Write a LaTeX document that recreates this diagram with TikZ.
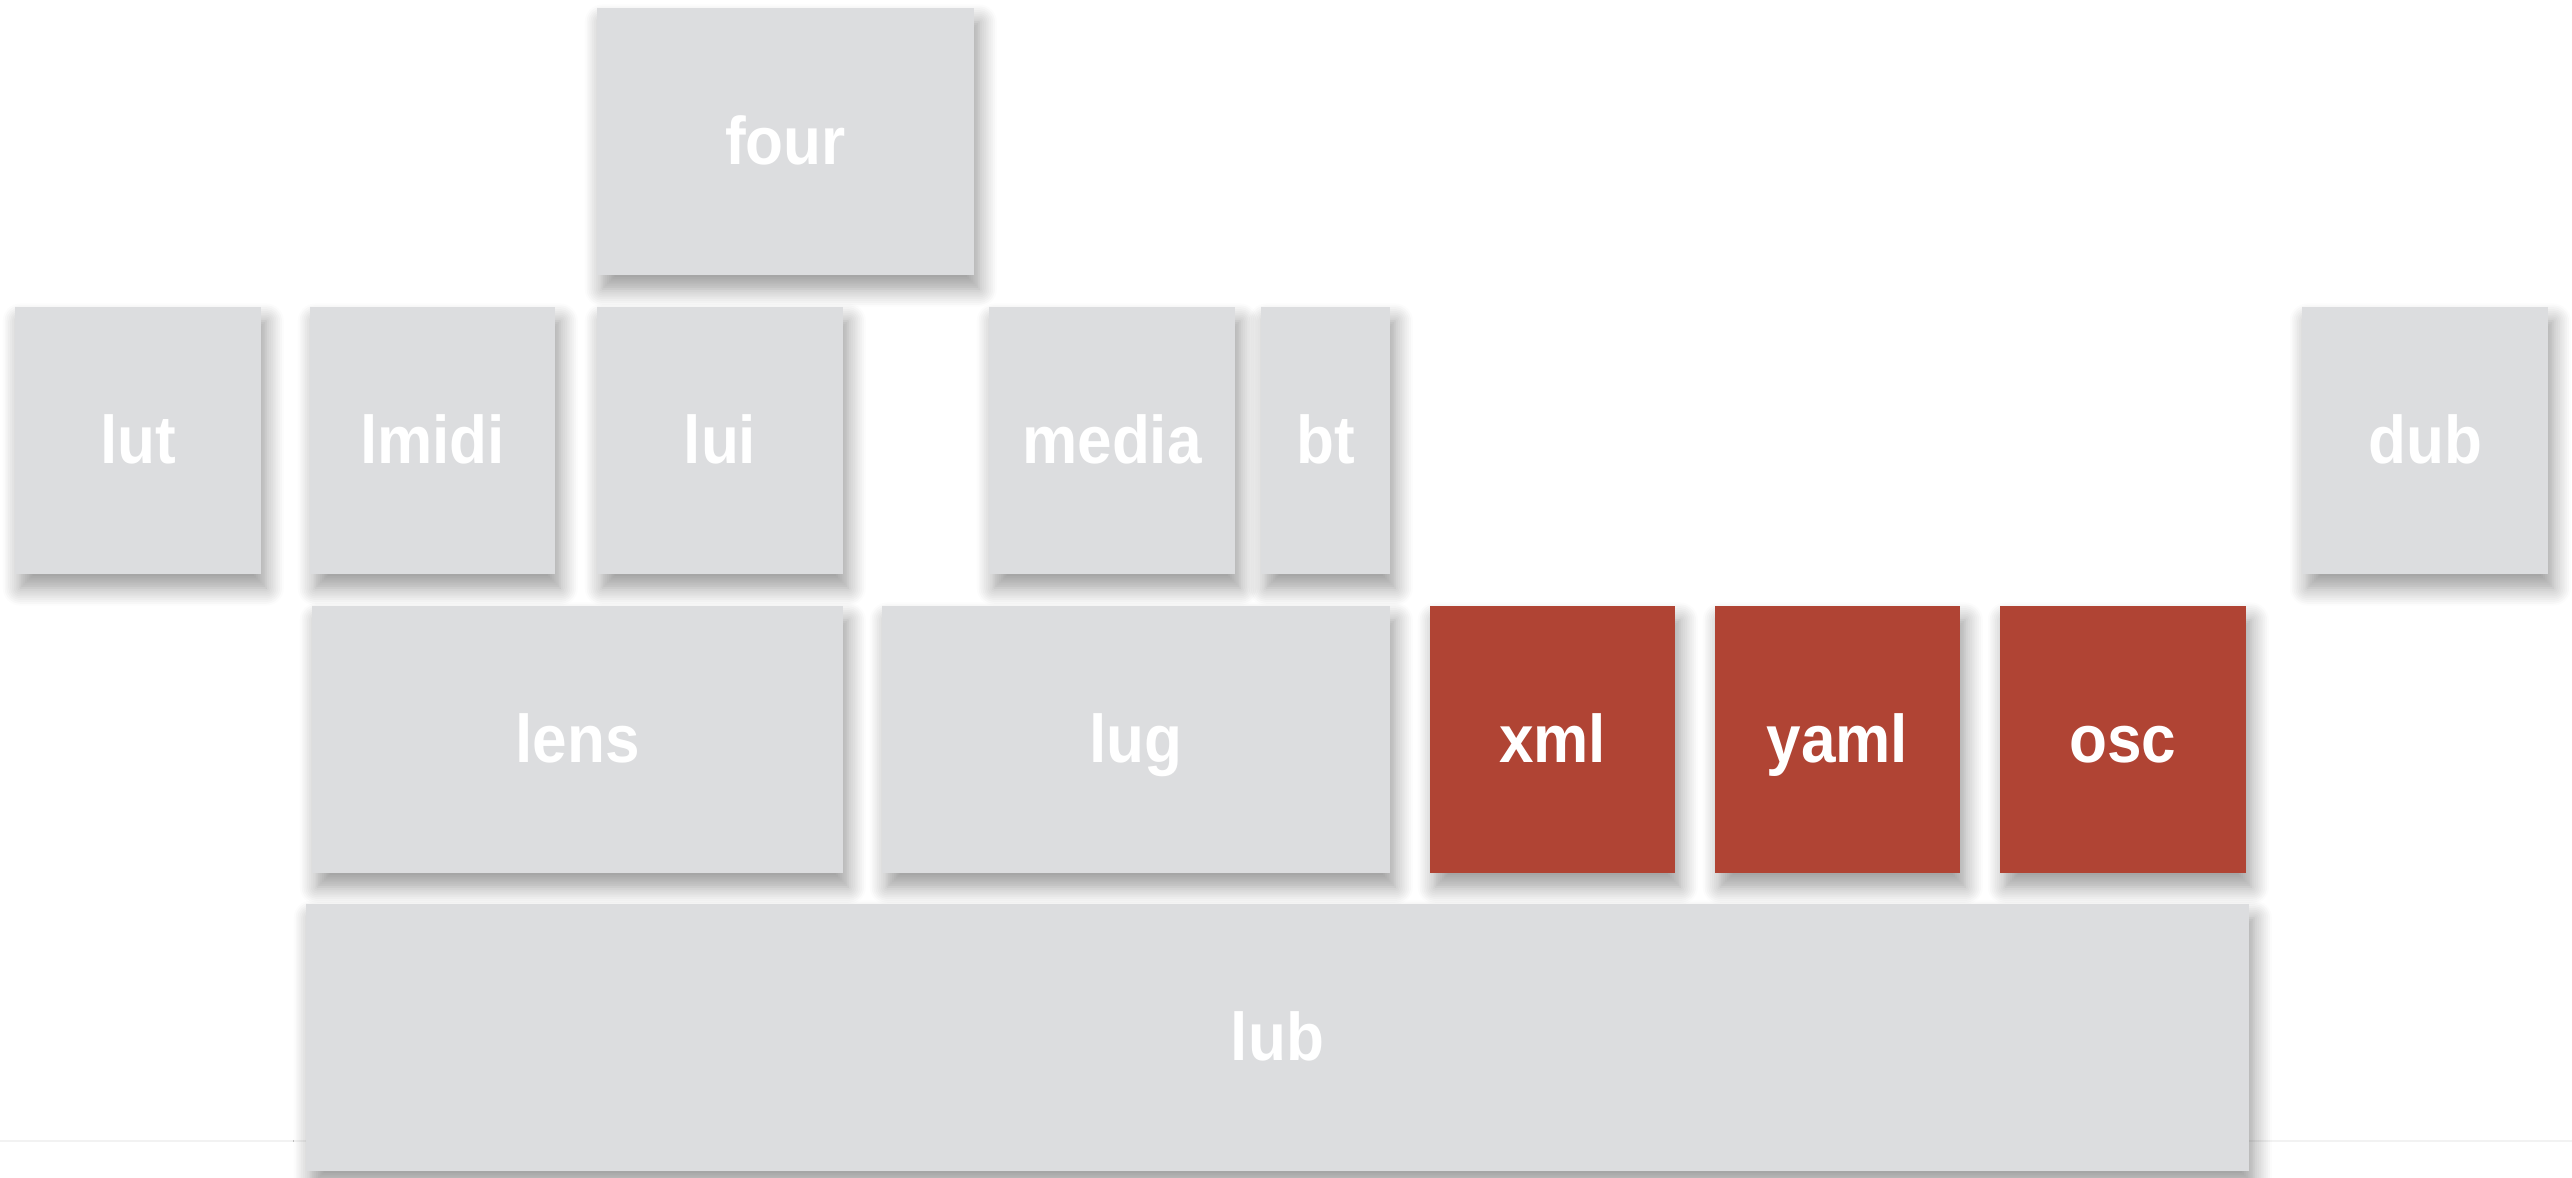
\documentclass[tikz,border=0pt]{standalone}
\usepackage{fontspec}
\setmainfont{Liberation Sans}[FakeStretch=0.92]
\usetikzlibrary{shadows.blur}

\definecolor{tilegray}{RGB}{220,221,223}
\definecolor{tilered}{RGB}{176,68,52}

\begin{document}
\begin{tikzpicture}[
            tile/.style={
                rectangle,
                fill=tilegray,
                text=white,
                minimum height=2.67cm,
                inner sep=0pt,
                text height=0.47cm,
                text depth=0cm,
                font=\fontsize{19.2}{19.2}\selectfont\bfseries,
                blur shadow={shadow xshift=1.5pt, shadow yshift=-4pt,
                    shadow blur radius=5pt, shadow blur steps=10,
                    shadow opacity=40}
            },
            hot/.style={
                tile,
                fill=tilered
            }
        ]

            \useasboundingbox (0, 0) rectangle (25.72, 11.78);
            \draw[black!5, line width=0.6pt] (0, 0.37) -- (25.72, 0.37);

            % top
            \node[tile, minimum width=3.77cm] (four) at (7.855, 10.365) {four};

            % second row
            \node[tile, minimum width=2.46cm] (lut) at (1.38, 7.375) {lut};
            \node[tile, minimum width=2.45cm] (lmidi) at (4.325, 7.375) {lmidi};
            \node[tile, minimum width=2.46cm] (lui) at (7.20, 7.375) {lui};
            \node[tile, minimum width=2.46cm] (media) at (11.12, 7.375) {media};
            \node[tile, minimum width=1.29cm] (bt) at (13.255, 7.375) {bt};
            \node[tile, minimum width=2.46cm] (dub) at (24.25, 7.375) {dub};

            % third row
            \node[tile, minimum width=5.31cm] (lens) at (5.775, 4.385) {lens};
            \node[tile, minimum width=5.08cm] (lug) at (11.36, 4.385) {lug};
            \node[hot, minimum width=2.45cm] (xml) at (15.525, 4.385) {xml};
            \node[hot, minimum width=2.45cm] (yaml) at (18.375, 4.385) {yaml};
            \node[hot, minimum width=2.46cm] (osc) at (21.23, 4.385) {osc};

            % base
            \node[tile, minimum width=19.43cm] (lub) at (12.775, 1.405) {lub};

        \end{tikzpicture}
\end{document}
